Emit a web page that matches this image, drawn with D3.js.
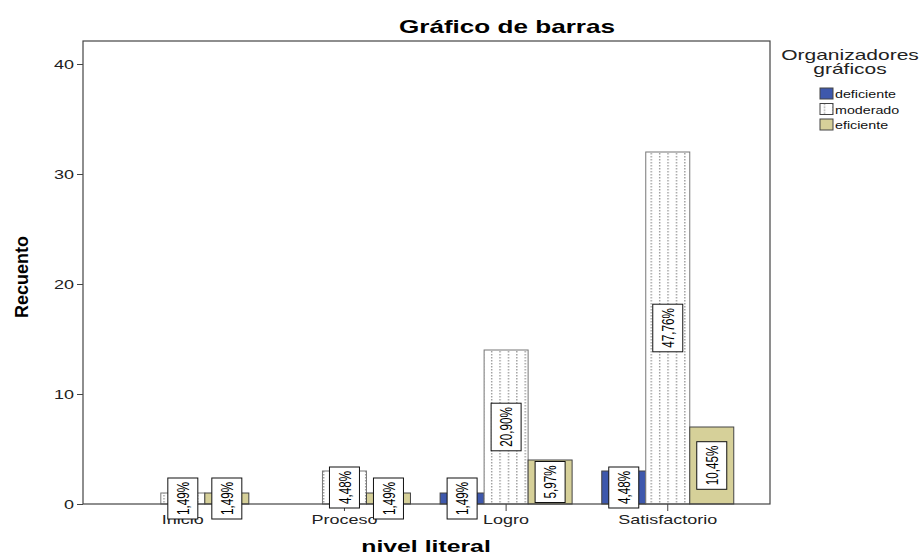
<!DOCTYPE html>
<html>
<head>
<meta charset="utf-8">
<script src="https://cdn.jsdelivr.net/npm/d3@7"></script>
<style>
  body { margin: 0; background: #fff; }
  svg { display: block; font-family: "Liberation Sans", Arial, sans-serif; }
</style>
</head>
<body>
<div id="chart"></div>
<script>
// data (counts, 67 students in total)
const categories = ["Inicio", "Proceso", "Logro", "Satisfactorio"];
const seriesNames = ["deficiente", "moderado", "eficiente"];
const deficiente = [0, 0, 1, 3];
const moderado = [1, 3, 14, 32];
const eficiente = [1, 1, 4, 7];
const yTicks = [0, 10, 20, 30, 40];

const width = 922, height = 554;
const plot = { left: 83, top: 41, right: 770, bottom: 504 };
const fills = ["#3e58ac", "url(#dots)", "#d6d099"];

const seriesValues = [deficiente, moderado, eficiente];
const total = d3.sum(seriesValues.flat());

const rows = [];
categories.forEach((c, i) => {
    seriesNames.forEach((s, j) => {
        rows.push({ cat: c, series: s, idx: j, value: seriesValues[j][i] });
    });
});

const svg = d3.select("#chart").append("svg")
    .attr("width", width)
    .attr("height", height);

// dotted pattern for "moderado"
const pat = svg.append("defs").append("pattern")
    .attr("id", "dots")
    .attr("patternUnits", "userSpaceOnUse")
    .attr("width", 8.4)
    .attr("height", 3);
pat.append("rect").attr("width", 8.4).attr("height", 3).attr("fill", "#fff");
pat.append("rect").attr("x", 4).attr("y", 0).attr("width", 1).attr("height", 1.5).attr("fill", "#777");

const x = d3.scaleBand()
    .domain(categories)
    .range([plot.left, plot.right])
    .paddingOuter(0.125)
    .align(0.47);

const groupWidth = 132;
const xs = d3.scaleBand()
    .domain(seriesNames)
    .range([0, groupWidth]);

const y = d3.scaleLinear()
    .domain([0, (plot.bottom - plot.top) / 11])
    .range([plot.bottom, plot.top]);

// stretched horizontal text helper
function label(sel, tx, ty, sx, text) {
    return sel.append("text")
        .attr("transform", `translate(${tx},${ty}) scale(${sx},1)`)
        .text(text);
}

// title
label(svg, 507, 33, 1.45, "Gráfico de barras")
    .attr("text-anchor", "middle")
    .attr("font-size", 18)
    .attr("font-weight", "bold")
    .attr("fill", "#000");

// bars
const barX = d => x(d.cat) + x.bandwidth() / 2 - groupWidth / 2 + xs(d.series);

svg.append("g").selectAll("rect")
    .data(rows.filter(d => d.value > 0))
    .enter().append("rect")
    .attr("x", barX)
    .attr("y", d => y(d.value))
    .attr("width", xs.bandwidth())
    .attr("height", d => y(0) - y(d.value))
    .attr("fill", d => fills[d.idx])
    .attr("stroke", d => d.idx === 1 ? "#777" : "#444")
    .attr("stroke-width", 1);

// frame
svg.append("rect")
    .attr("x", plot.left)
    .attr("y", plot.top)
    .attr("width", plot.right - plot.left)
    .attr("height", plot.bottom - plot.top)
    .attr("fill", "none")
    .attr("stroke", "#444")
    .attr("stroke-width", 1.2);

// y axis
const yAxis = svg.append("g")
    .attr("transform", `translate(${plot.left},0)`)
    .call(d3.axisLeft(y).tickValues(yTicks).tickSize(6).tickFormat(d3.format("d")));
yAxis.select(".domain").remove();
yAxis.selectAll(".tick line").attr("stroke", "#444");
yAxis.selectAll(".tick text").remove();
yAxis.selectAll(".tick").each(function(d) {
    label(d3.select(this), -9, 4.5, 1.5, d)
        .attr("text-anchor", "end")
        .attr("font-size", 12)
        .attr("fill", "#222");
});

// x axis
const xAxis = svg.append("g")
    .attr("transform", `translate(0,${plot.bottom})`)
    .call(d3.axisBottom(x).tickSize(7));
xAxis.select(".domain").remove();
xAxis.selectAll(".tick line").attr("stroke", "#444");
xAxis.selectAll(".tick text").remove();

// percentage boxes on each bar
const boxes = svg.append("g").selectAll("g")
    .data(rows.filter(d => d.value > 0))
    .enter().append("g")
    .attr("transform", d => `translate(${barX(d) + xs.bandwidth() / 2},${(y(0) + y(d.value)) / 2})`);

boxes.each(function(d) {
    const g = d3.select(this);
    const txt = d3.format(".2f")(d.value / total * 100).replace(".", ",") + "%";
    const len = txt.length * 6.6;
    g.append("rect")
        .attr("x", -15)
        .attr("y", -(len + 8) / 2)
        .attr("width", 30)
        .attr("height", len + 8)
        .attr("fill", "#fff")
        .attr("stroke", "#111")
        .attr("stroke-width", 1);
    g.append("text")
        .attr("transform", "rotate(-90)")
        .attr("text-anchor", "middle")
        .attr("dy", "0.36em")
        .attr("font-size", 17)
        .attr("textLength", len)
        .attr("lengthAdjust", "spacingAndGlyphs")
        .attr("fill", "#000")
        .text(txt);
});

// x tick labels on top of the boxes
xAxis.selectAll(".tick").each(function(d) {
    label(d3.select(this), 0, 20, 1.5, d)
        .attr("text-anchor", "middle")
        .attr("font-size", 12)
        .attr("fill", "#222");
});

// axis titles
label(svg, 426, 552, 1.55, "nivel literal")
    .attr("text-anchor", "middle")
    .attr("font-size", 16)
    .attr("font-weight", "bold");

svg.append("text")
    .attr("transform", "translate(28,277) rotate(-90)")
    .attr("text-anchor", "middle")
    .attr("font-size", 18)
    .attr("font-weight", "bold")
    .text("Recuento");

// legend
const legend = svg.append("g");
label(legend, 850, 60, 1.5, "Organizadores")
    .attr("text-anchor", "middle").attr("font-size", 14).attr("fill", "#222");
label(legend, 850, 74, 1.5, "gráficos")
    .attr("text-anchor", "middle").attr("font-size", 14).attr("fill", "#222");

const item = legend.selectAll(".item")
    .data(seriesNames)
    .enter().append("g")
    .attr("class", "item")
    .attr("transform", (d, i) => `translate(820,${88 + i * 15.5})`);
item.append("rect")
    .attr("width", 13)
    .attr("height", 11)
    .attr("fill", (d, i) => fills[i])
    .attr("stroke", "#444");
item.each(function(d) {
    label(d3.select(this), 15, 10, 1.36, d)
        .attr("font-size", 10.5)
        .attr("fill", "#111");
});
</script>
</body>
</html>
